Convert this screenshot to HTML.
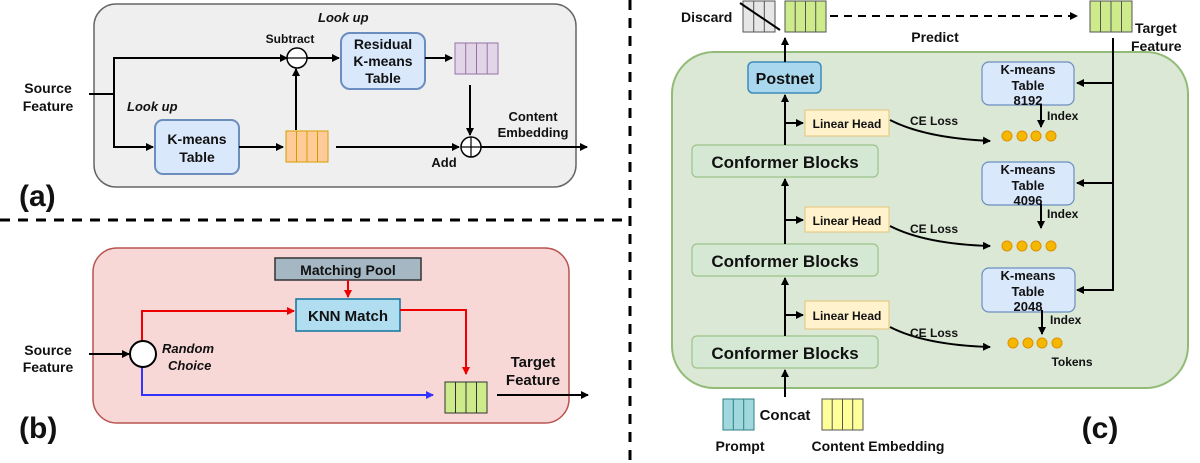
<!DOCTYPE html>
<html><head><meta charset="utf-8"><style>
html,body{margin:0;padding:0;background:#fff;}
svg{display:block;}
text{font-family:"Liberation Sans","DejaVu Sans",sans-serif;font-weight:bold;fill:#111;}
</style></head><body>
<svg width="1200" height="463" viewBox="0 0 1200 463" xmlns="http://www.w3.org/2000/svg">
<defs>
<marker id="ab" markerWidth="8" markerHeight="8" refX="7" refY="4" orient="auto" markerUnits="userSpaceOnUse"><path d="M0,0 L8,4 L0,8 z" fill="#000"/></marker>
<marker id="ar" markerWidth="8" markerHeight="8" refX="7" refY="4" orient="auto" markerUnits="userSpaceOnUse"><path d="M0,0 L8,4 L0,8 z" fill="#e00"/></marker>
<marker id="au" markerWidth="8" markerHeight="8" refX="7" refY="4" orient="auto" markerUnits="userSpaceOnUse"><path d="M0,0 L8,4 L0,8 z" fill="#33f"/></marker>
</defs>

<line x1="0" y1="220" x2="625" y2="220" stroke="#000" stroke-width="3" stroke-dasharray="10,8"/>
<line x1="630" y1="0" x2="630" y2="463" stroke="#000" stroke-width="3" stroke-dasharray="10,8"/>

<!-- Panel (a) -->
<rect x="94" y="4" width="482" height="183" rx="22" fill="#efefef" stroke="#666" stroke-width="1.5"/>
<text x="48" y="93" font-size="14" text-anchor="middle">Source</text>
<text x="48" y="111" font-size="14" text-anchor="middle">Feature</text>
<polyline points="89,94 114,94" stroke="#000" stroke-width="2" fill="none"/>
<polyline points="114,94 114,58 287,58" stroke="#000" stroke-width="2" fill="none" marker-end="url(#ab)"/>
<polyline points="114,94 114,147 153,147" stroke="#000" stroke-width="2" fill="none" marker-end="url(#ab)"/>
<text x="127" y="111" font-size="13" font-style="italic">Look up</text>
<text x="318" y="22" font-size="13" font-style="italic">Look up</text>
<rect x="155" y="120" width="84" height="54" rx="8" fill="#dae8fc" stroke="#6c8ebf" stroke-width="2"/>
<text x="197" y="144" font-size="14" text-anchor="middle">K-means</text>
<text x="197" y="162" font-size="14" text-anchor="middle">Table</text>
<line x1="239" y1="147" x2="283" y2="147" stroke="#000" stroke-width="2" marker-end="url(#ab)"/>
<g stroke="#d79b00" stroke-width="1" fill="#ffcc99"><rect x="286" y="131" width="42" height="31"/><line x1="296.5" y1="131" x2="296.5" y2="162"/><line x1="307" y1="131" x2="307" y2="162"/><line x1="317.5" y1="131" x2="317.5" y2="162"/></g>
<line x1="296" y1="130" x2="296" y2="69" stroke="#000" stroke-width="2" marker-end="url(#ab)"/>
<circle cx="297" cy="58" r="10" fill="#fff" stroke="#000" stroke-width="1.5"/>
<line x1="287" y1="58" x2="307" y2="58" stroke="#000" stroke-width="1.2"/>
<text x="290" y="43" font-size="12" text-anchor="middle">Subtract</text>
<line x1="307" y1="58" x2="339" y2="58" stroke="#000" stroke-width="2" marker-end="url(#ab)"/>
<rect x="341" y="33" width="84" height="56" rx="9" fill="#dae8fc" stroke="#6c8ebf" stroke-width="2"/>
<text x="383" y="49" font-size="14" text-anchor="middle">Residual</text>
<text x="383" y="66" font-size="14" text-anchor="middle">K-means</text>
<text x="383" y="83" font-size="14" text-anchor="middle">Table</text>
<line x1="425" y1="58" x2="452" y2="58" stroke="#000" stroke-width="2" marker-end="url(#ab)"/>
<g stroke="#9673a6" stroke-width="1" fill="#e1d5e7"><rect x="455" y="43" width="43" height="31"/><line x1="465.7" y1="43" x2="465.7" y2="74"/><line x1="476.5" y1="43" x2="476.5" y2="74"/><line x1="487.2" y1="43" x2="487.2" y2="74"/></g>
<line x1="470" y1="85" x2="470" y2="135" stroke="#000" stroke-width="2" marker-end="url(#ab)"/>
<line x1="336" y1="147" x2="459" y2="147" stroke="#000" stroke-width="2" marker-end="url(#ab)"/>
<circle cx="471" cy="147" r="10" fill="#fff" stroke="#000" stroke-width="1.5"/>
<line x1="461" y1="147" x2="481" y2="147" stroke="#000" stroke-width="1.2"/>
<line x1="471" y1="137" x2="471" y2="157" stroke="#000" stroke-width="1.2"/>
<text x="444" y="167" font-size="13" text-anchor="middle">Add</text>
<line x1="481" y1="147" x2="587" y2="147" stroke="#000" stroke-width="2" marker-end="url(#ab)"/>
<text x="533" y="121" font-size="13" text-anchor="middle">Content</text>
<text x="533" y="137" font-size="13" text-anchor="middle">Embedding</text>
<text x="19" y="206" font-size="30">(a)</text>

<!-- Panel (b) -->
<rect x="93" y="248" width="476" height="175" rx="24" fill="#f8d7d7" stroke="#b85450" stroke-width="1.5"/>
<text x="48" y="355" font-size="14" text-anchor="middle">Source</text>
<text x="48" y="372" font-size="14" text-anchor="middle">Feature</text>
<line x1="89" y1="354" x2="129" y2="354" stroke="#000" stroke-width="2" marker-end="url(#ab)"/>
<polyline points="142,341 142,311 294,311" stroke="#e00" stroke-width="2" fill="none" marker-end="url(#ar)"/>
<polyline points="142,367 142,395 433,395" stroke="#33f" stroke-width="2" fill="none" marker-end="url(#au)"/>
<circle cx="143" cy="354" r="13" fill="#fff" stroke="#000" stroke-width="2"/>
<text x="162" y="353" font-size="13" font-style="italic">Random</text>
<text x="168" y="370" font-size="13" font-style="italic">Choice</text>
<rect x="275" y="258" width="146" height="22" fill="#a6b7c4" stroke="#333" stroke-width="1.5"/>
<text x="348" y="275" font-size="14" text-anchor="middle">Matching Pool</text>
<line x1="348" y1="280" x2="348" y2="297" stroke="#e00" stroke-width="2" marker-end="url(#ar)"/>
<rect x="296" y="299" width="104" height="32" fill="#b1ddf0" stroke="#10739e" stroke-width="1.5"/>
<text x="348" y="321" font-size="15" text-anchor="middle">KNN Match</text>
<polyline points="400,310 466,310 466,374" stroke="#e00" stroke-width="2" fill="none" marker-end="url(#ar)"/>
<g stroke="#333" stroke-width="1" fill="#cdeb8b"><rect x="445" y="382" width="42" height="31"/><line x1="455.5" y1="382" x2="455.5" y2="413"/><line x1="466" y1="382" x2="466" y2="413"/><line x1="476.5" y1="382" x2="476.5" y2="413"/></g>
<text x="533" y="367" font-size="15" text-anchor="middle">Target</text>
<text x="533" y="385" font-size="15" text-anchor="middle">Feature</text>
<line x1="497" y1="395" x2="588" y2="395" stroke="#000" stroke-width="2" marker-end="url(#ab)"/>
<text x="19" y="438" font-size="30">(b)</text>

<!-- Panel (c) -->
<rect x="672" y="52" width="516" height="336" rx="42" fill="#dbe8d5" stroke="#93bb78" stroke-width="2"/>
<text x="681" y="22" font-size="14">Discard</text>
<g stroke="#555" stroke-width="1" fill="#e6e6e6"><rect x="743" y="1" width="32" height="31"/><line x1="753.7" y1="1" x2="753.7" y2="32"/><line x1="764.3" y1="1" x2="764.3" y2="32"/></g>
<line x1="740" y1="3" x2="780" y2="30" stroke="#000" stroke-width="2"/>
<g stroke="#555" stroke-width="1" fill="#cdeb8b"><rect x="785" y="1" width="41" height="31"/><line x1="795.2" y1="1" x2="795.2" y2="32"/><line x1="805.5" y1="1" x2="805.5" y2="32"/><line x1="815.7" y1="1" x2="815.7" y2="32"/></g>
<line x1="830" y1="16" x2="1077" y2="16" stroke="#000" stroke-width="2" stroke-dasharray="8,6" marker-end="url(#ab)"/>
<text x="935" y="42" font-size="14" text-anchor="middle">Predict</text>
<g stroke="#555" stroke-width="1" fill="#cdeb8b"><rect x="1090" y="1" width="42" height="31"/><line x1="1100.5" y1="1" x2="1100.5" y2="32"/><line x1="1111" y1="1" x2="1111" y2="32"/><line x1="1121.5" y1="1" x2="1121.5" y2="32"/></g>
<text x="1135" y="33" font-size="14">Target</text>
<text x="1131" y="51" font-size="14">Feature</text>
<polyline points="1113,38 1113,290 1077,290" stroke="#000" stroke-width="2" fill="none" marker-end="url(#ab)"/>
<line x1="1113" y1="83" x2="1077" y2="83" stroke="#000" stroke-width="2" marker-end="url(#ab)"/>
<line x1="1113" y1="183" x2="1077" y2="183" stroke="#000" stroke-width="2" marker-end="url(#ab)"/>
<g font-size="13">
<rect x="982" y="62" width="92" height="43" rx="7" fill="#dae8fc" stroke="#6c8ebf" stroke-width="1.2"/>
<text x="1028" y="74" text-anchor="middle">K-means</text><text x="1028" y="90" text-anchor="middle">Table</text><text x="1028" y="105" text-anchor="middle">8192</text>
<rect x="982" y="162" width="92" height="43" rx="7" fill="#dae8fc" stroke="#6c8ebf" stroke-width="1.2"/>
<text x="1028" y="174" text-anchor="middle">K-means</text><text x="1028" y="190" text-anchor="middle">Table</text><text x="1028" y="205" text-anchor="middle">4096</text>
<rect x="982" y="268" width="93" height="44" rx="7" fill="#dae8fc" stroke="#6c8ebf" stroke-width="1.2"/>
<text x="1028" y="280" text-anchor="middle">K-means</text><text x="1028" y="296" text-anchor="middle">Table</text><text x="1028" y="311" text-anchor="middle">2048</text>
</g>
<line x1="1041" y1="104" x2="1041" y2="127" stroke="#000" stroke-width="2" marker-end="url(#ab)"/>
<line x1="1041" y1="204" x2="1041" y2="228" stroke="#000" stroke-width="2" marker-end="url(#ab)"/>
<line x1="1042" y1="310" x2="1042" y2="334" stroke="#000" stroke-width="2" marker-end="url(#ab)"/>
<text x="1047" y="120" font-size="12">Index</text>
<text x="1047" y="218" font-size="12">Index</text>
<text x="1050" y="324" font-size="12">Index</text>
<g fill="#f5b800" stroke="#e09000" stroke-width="1">
<circle cx="1007" cy="136" r="5"/><circle cx="1022" cy="136" r="5"/><circle cx="1036" cy="136" r="5"/><circle cx="1051" cy="136" r="5"/>
<circle cx="1007" cy="246" r="5"/><circle cx="1022" cy="246" r="5"/><circle cx="1036" cy="246" r="5"/><circle cx="1051" cy="246" r="5"/>
<circle cx="1013" cy="343" r="5"/><circle cx="1028" cy="343" r="5"/><circle cx="1042" cy="343" r="5"/><circle cx="1057" cy="343" r="5"/>
</g>
<text x="1072" y="366" font-size="12" text-anchor="middle">Tokens</text>

<rect x="748" y="62" width="73" height="31" rx="5" fill="#a9d8ee" stroke="#3d8ab8" stroke-width="1.5"/>
<text x="785" y="84" font-size="16" text-anchor="middle">Postnet</text>
<g fill="#d5e8d4" stroke="#9cc38a" stroke-width="1.2">
<rect x="692" y="145" width="186" height="32" rx="5"/>
<rect x="692" y="244" width="186" height="32" rx="5"/>
<rect x="692" y="336" width="186" height="32" rx="5"/>
</g>
<text x="785" y="168" font-size="17" text-anchor="middle">Conformer Blocks</text>
<text x="785" y="267" font-size="17" text-anchor="middle">Conformer Blocks</text>
<text x="785" y="359" font-size="17" text-anchor="middle">Conformer Blocks</text>
<g fill="#fff2cc" stroke="#e6c47a" stroke-width="1">
<rect x="805" y="110" width="84" height="26"/>
<rect x="805" y="207" width="84" height="25"/>
<rect x="805" y="301" width="84" height="28"/>
</g>
<text x="847" y="128" font-size="12" text-anchor="middle">Linear Head</text>
<text x="847" y="225" font-size="12" text-anchor="middle">Linear Head</text>
<text x="847" y="320" font-size="12" text-anchor="middle">Linear Head</text>
<line x1="785" y1="397" x2="785" y2="370" stroke="#000" stroke-width="2" marker-end="url(#ab)"/>
<line x1="785" y1="336" x2="785" y2="278" stroke="#000" stroke-width="2" marker-end="url(#ab)"/>
<line x1="785" y1="244" x2="785" y2="179" stroke="#000" stroke-width="2" marker-end="url(#ab)"/>
<line x1="785" y1="145" x2="785" y2="95" stroke="#000" stroke-width="2" marker-end="url(#ab)"/>
<line x1="785" y1="62" x2="785" y2="38" stroke="#000" stroke-width="2" marker-end="url(#ab)"/>
<line x1="785" y1="123" x2="803" y2="123" stroke="#000" stroke-width="2" marker-end="url(#ab)"/>
<line x1="785" y1="220" x2="803" y2="220" stroke="#000" stroke-width="2" marker-end="url(#ab)"/>
<line x1="785" y1="315" x2="803" y2="315" stroke="#000" stroke-width="2" marker-end="url(#ab)"/>
<path d="M890,120 Q925,138 990,141" stroke="#000" stroke-width="2" fill="none" marker-end="url(#ab)"/>
<path d="M890,226 Q925,244 990,246" stroke="#000" stroke-width="2" fill="none" marker-end="url(#ab)"/>
<path d="M890,327 Q925,345 990,347" stroke="#000" stroke-width="2" fill="none" marker-end="url(#ab)"/>
<text x="934" y="125" font-size="12" text-anchor="middle">CE Loss</text>
<text x="934" y="233" font-size="12" text-anchor="middle">CE Loss</text>
<text x="934" y="337" font-size="12" text-anchor="middle">CE Loss</text>

<g stroke="#2f7f84" stroke-width="1" fill="#a0d8dd"><rect x="723" y="399" width="31" height="31"/><line x1="733.3" y1="399" x2="733.3" y2="430"/><line x1="743.7" y1="399" x2="743.7" y2="430"/></g>
<text x="785" y="420" font-size="15" text-anchor="middle">Concat</text>
<g stroke="#555" stroke-width="1" fill="#ffff99"><rect x="822" y="399" width="41" height="31"/><line x1="832.2" y1="399" x2="832.2" y2="430"/><line x1="842.5" y1="399" x2="842.5" y2="430"/><line x1="852.7" y1="399" x2="852.7" y2="430"/></g>
<text x="740" y="451" font-size="14" text-anchor="middle">Prompt</text>
<text x="878" y="451" font-size="14" text-anchor="middle">Content Embedding</text>
<text x="1100" y="438" font-size="30" text-anchor="middle">(c)</text>
</svg>
</body></html>
